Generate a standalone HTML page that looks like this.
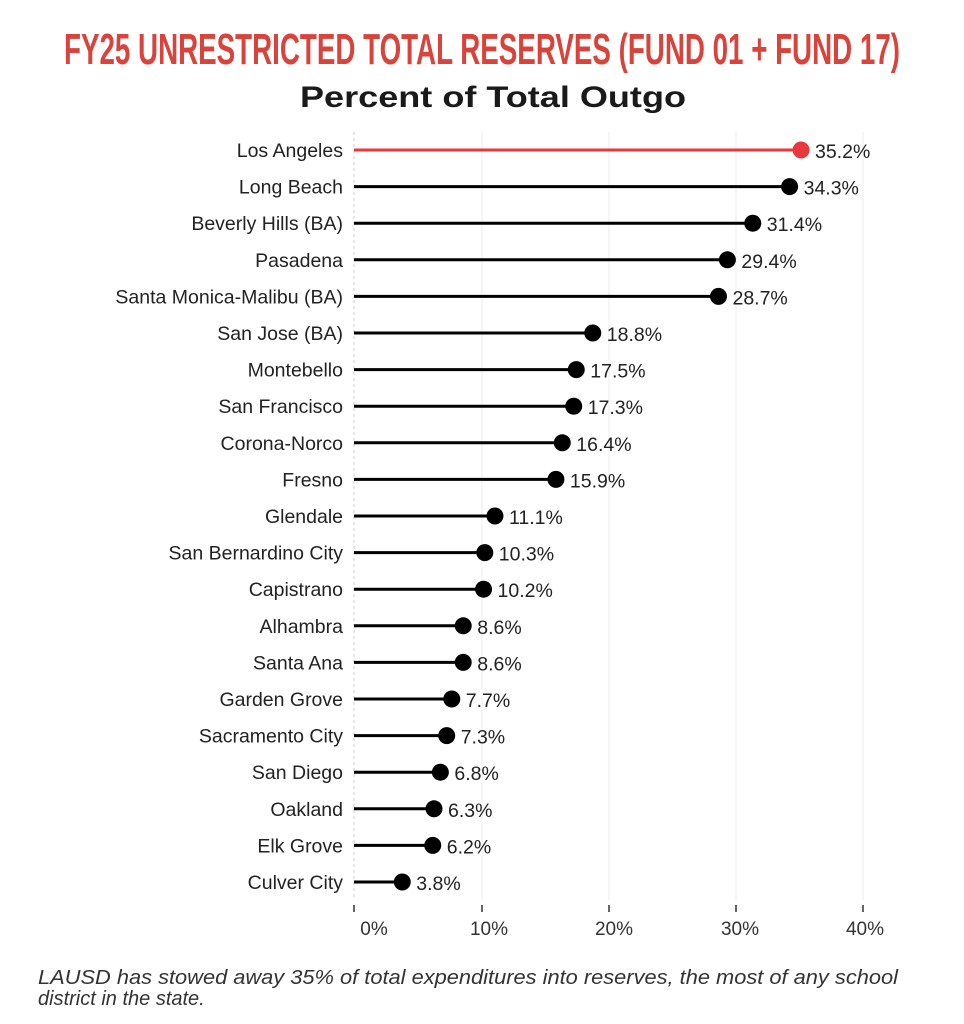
<!DOCTYPE html>
<html><head><meta charset="utf-8"><style>
html,body{margin:0;padding:0;background:#fff;width:964px;height:1024px;overflow:hidden}
svg{display:block}
</style></head><body>
<svg width="964" height="1024" xmlns="http://www.w3.org/2000/svg" font-family="Liberation Sans, sans-serif">
<text x="482" y="64" text-anchor="middle" font-family="Liberation Sans Narrow, Liberation Sans, sans-serif" font-weight="bold" font-size="44" fill="#d8443b" textLength="836" lengthAdjust="spacingAndGlyphs">FY25 UNRESTRICTED TOTAL RESERVES (FUND 01 + FUND 17)</text>
<text x="493" y="107" text-anchor="middle" font-weight="bold" font-size="30" fill="#1a1a1a" textLength="386" lengthAdjust="spacingAndGlyphs">Percent of Total Outgo</text>
<g stroke="#ececec" stroke-width="1">
<line x1="482" y1="132" x2="482" y2="900"/><line x1="609" y1="132" x2="609" y2="900"/><line x1="736" y1="132" x2="736" y2="900"/><line x1="863" y1="132" x2="863" y2="900"/>
</g>
<line x1="354" y1="132" x2="354" y2="900" stroke="#ccc" stroke-width="1" stroke-dasharray="3,3"/>
<g stroke="#333" stroke-width="1.5">
<line x1="354" y1="905" x2="354" y2="912"/><line x1="482" y1="905" x2="482" y2="912"/><line x1="609" y1="905" x2="609" y2="912"/><line x1="736" y1="905" x2="736" y2="912"/><line x1="863" y1="905" x2="863" y2="912"/>
</g>
<g font-size="19" fill="#333" text-anchor="middle">
<text x="374" y="935">0%</text><text x="489" y="935">10%</text><text x="614" y="935">20%</text><text x="740" y="935">30%</text><text x="865" y="935">40%</text>
</g>
<g id="rows" font-size="19.5" fill="#222"></g>
<text font-family="Liberation Sans Narrow, Liberation Sans, sans-serif" font-style="italic" font-size="20" fill="#333"><tspan x="38" y="984" textLength="860" lengthAdjust="spacingAndGlyphs">LAUSD has stowed away 35% of total expenditures into reserves, the most of any school</tspan><tspan x="38" y="1005">district in the state.</tspan></text>
</svg>
<script>
var d=[["Los Angeles",35.2],["Long Beach",34.3],["Beverly Hills (BA)",31.4],["Pasadena",29.4],["Santa Monica-Malibu (BA)",28.7],["San Jose (BA)",18.8],["Montebello",17.5],["San Francisco",17.3],["Corona-Norco",16.4],["Fresno",15.9],["Glendale",11.1],["San Bernardino City",10.3],["Capistrano",10.2],["Alhambra",8.6],["Santa Ana",8.6],["Garden Grove",7.7],["Sacramento City",7.3],["San Diego",6.8],["Oakland",6.3],["Elk Grove",6.2],["Culver City",3.8]];
var g=document.getElementById('rows'),h='';
d.forEach(function(r,i){var y=150+i*36.6,x=354+r[1]*12.7,c=i==0?'#e8383b':'#000';
h+='<text x="343" y="'+(y+7)+'" text-anchor="end">'+r[0]+'</text>';
h+='<line x1="354" y1="'+y+'" x2="'+x+'" y2="'+y+'" stroke="'+c+'" stroke-width="3"/>';
h+='<circle cx="'+x+'" cy="'+y+'" r="8.5" fill="'+c+'"/>';
h+='<text x="'+(x+14)+'" y="'+(y+8)+'">'+r[1].toFixed(1)+'%</text>';});
g.innerHTML=h;
</script>
</body></html>
